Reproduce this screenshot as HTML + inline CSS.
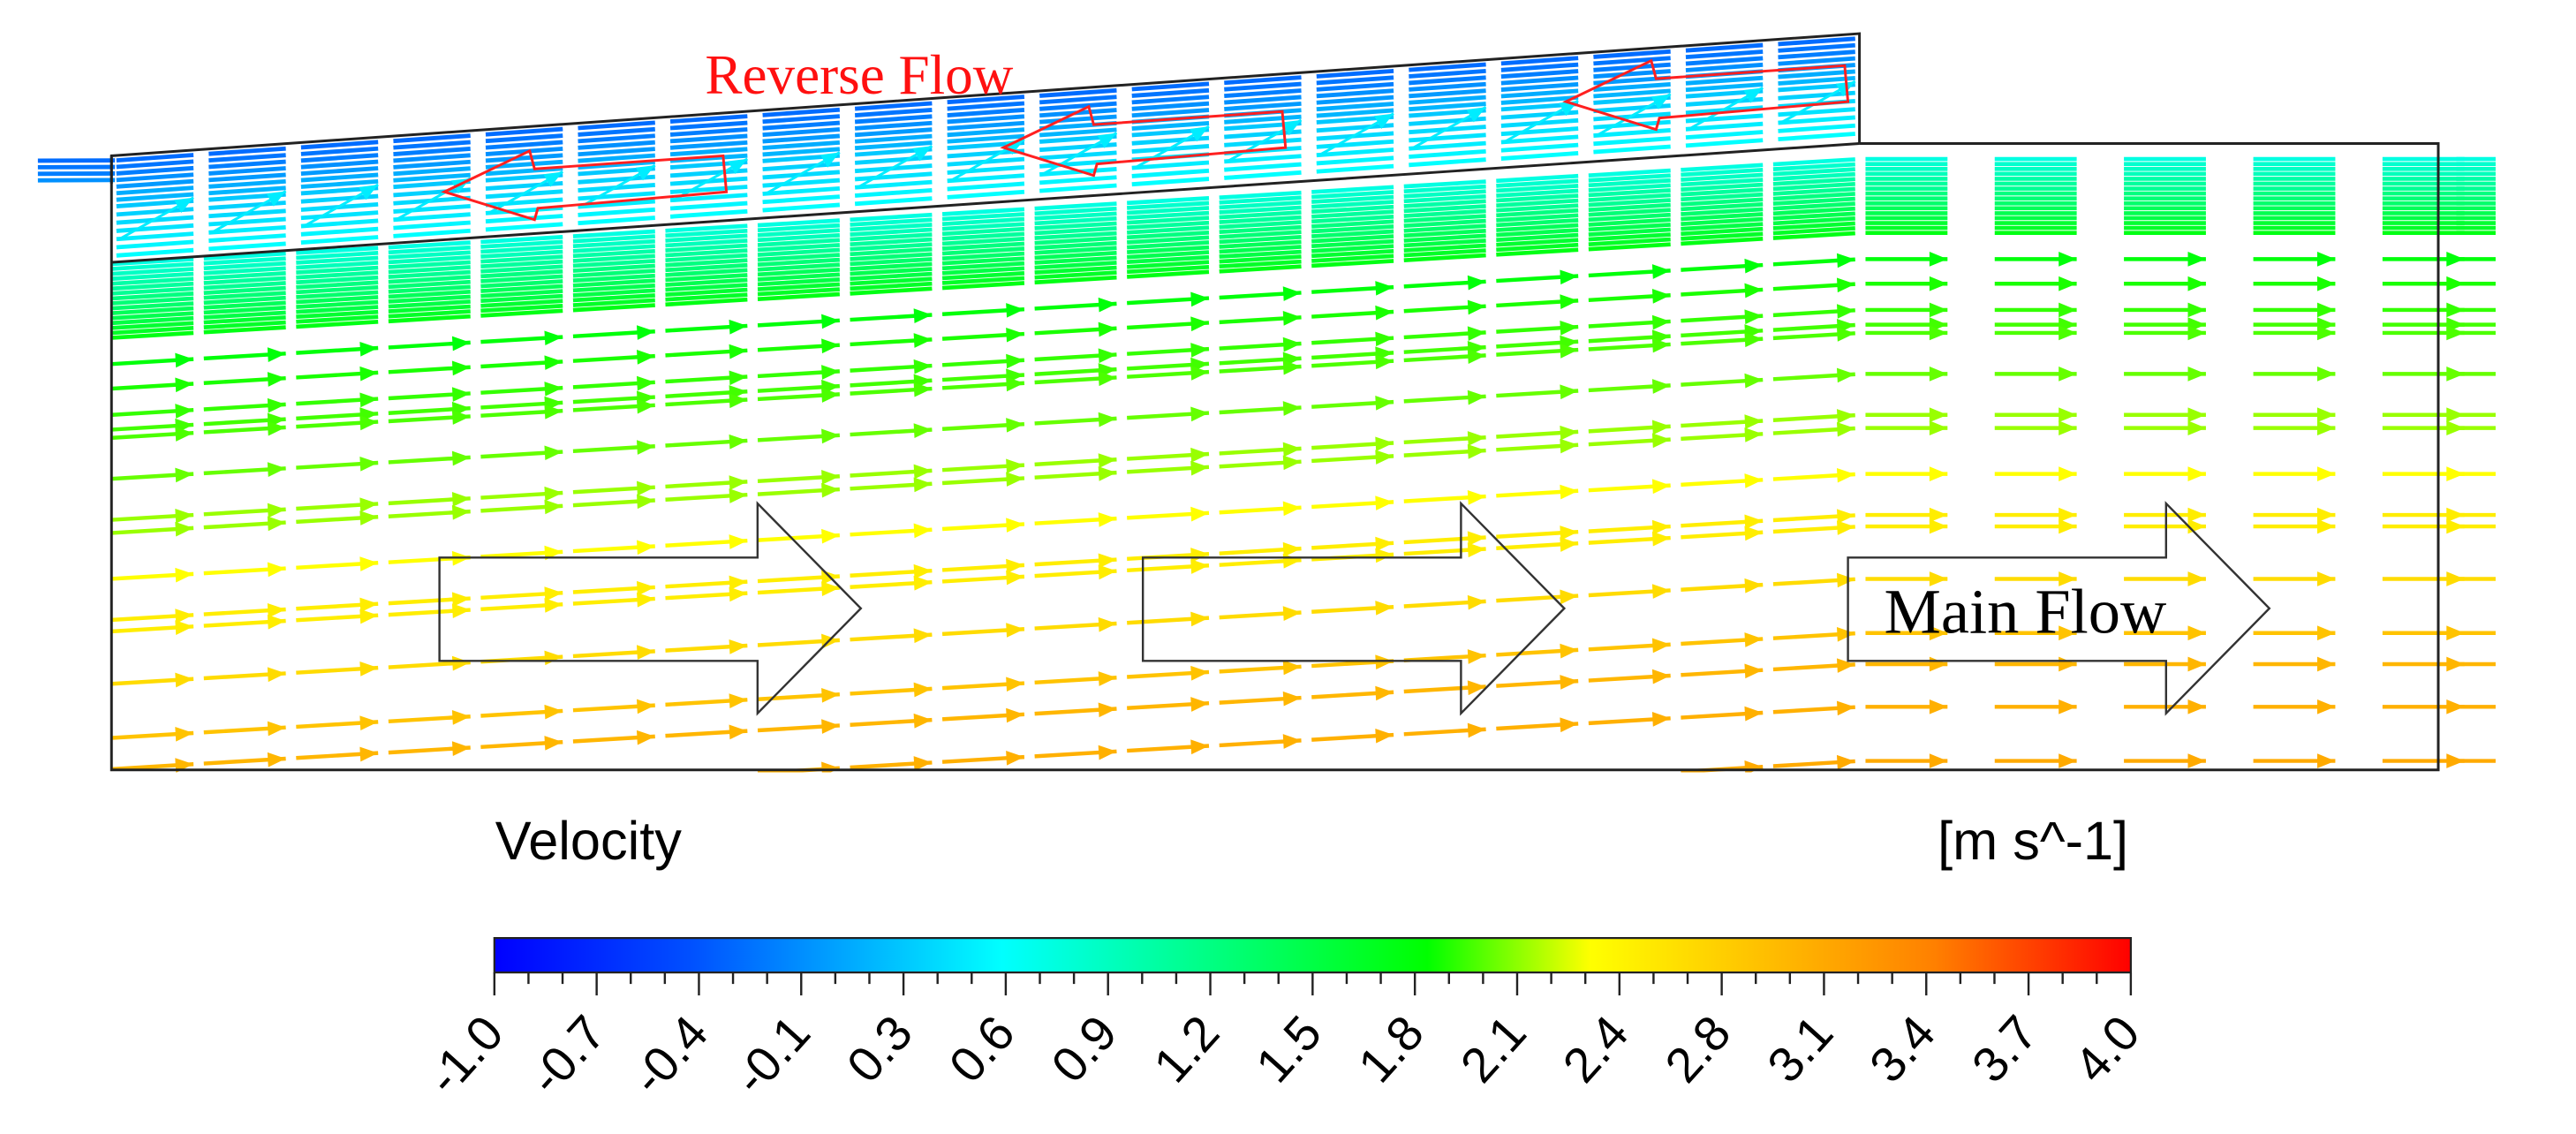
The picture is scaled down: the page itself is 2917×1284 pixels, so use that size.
<!DOCTYPE html>
<html><head><meta charset="utf-8"><title>Velocity vectors</title>
<style>
html,body{margin:0;padding:0;background:#fff;}
svg{display:block;}
</style></head>
<body>
<svg id="chart" xmlns="http://www.w3.org/2000/svg" width="2917" height="1284" viewBox="0 0 1571 691.5" preserveAspectRatio="none">
  <defs>
    <clipPath id="flowClip">
      <polygon points="15,95 68,95 1134,20.5 1134,87.5 1522,87.5 1522,471 68,471 68,112 15,112"/>
    </clipPath>
    <linearGradient id="cbGrad" x1="0" x2="1" y1="0" y2="0">
      <stop offset="0" stop-color="#0000ff"/>
      <stop offset="0.12" stop-color="#0050ff"/>
      <stop offset="0.31" stop-color="#00ffff"/>
      <stop offset="0.44" stop-color="#00ff80"/>
      <stop offset="0.57" stop-color="#00ff00"/>
      <stop offset="0.67" stop-color="#ffff00"/>
      <stop offset="0.88" stop-color="#ff8000"/>
      <stop offset="1" stop-color="#ff0000"/>
    </linearGradient>
  </defs>
  <g id="vectors" clip-path="url(#flowClip)"></g>

  <g fill="none" stroke="#222" stroke-width="1.6">
    <polyline points="68,112 68,95 1134,20.5 1134,87.5"/>
    <line x1="68" y1="160" x2="1134" y2="87.5"/>
    <polyline points="1134,87.5 1487,87.5 1487,469.5 68,469.5 68,95"/>
  </g>

  <g fill="none" stroke="#ff2020" stroke-width="1.6">
    <polygon points="271,117 323,92 326,103 441,95 443,117 328,127 326,134"/>
    <polygon transform="translate(341,-27)" points="271,117 323,92 326,103 441,95 443,117 328,127 326,134"/>
    <polygon transform="translate(684,-55)" points="271,117 323,92 326,103 441,95 443,117 328,127 326,134"/>
  </g>
  <text x="430" y="57" font-family="Liberation Serif, serif" font-size="34" fill="#ff1010">Reverse Flow</text>

  <g fill="none" stroke="#333" stroke-width="1.3">
    <polygon points="268,340 462,340 462,307 525,371 462,435 462,403 268,403"/>
    <polygon transform="translate(429,0)" points="268,340 462,340 462,307 525,371 462,435 462,403 268,403"/>
    <polygon transform="translate(859,0)" points="268,340 462,340 462,307 525,371 462,435 462,403 268,403"/>
  </g>
  <text x="1149" y="386" font-family="Liberation Serif, serif" font-size="39" fill="#000">Main Flow</text>

  <text x="302" y="524" font-family="Liberation Sans, sans-serif" font-size="33" fill="#000">Velocity</text>
  <text x="1298" y="524" text-anchor="end" font-family="Liberation Sans, sans-serif" font-size="33" fill="#000">[m s^-1]</text>
  <rect x="301.5" y="572" width="998" height="21" fill="url(#cbGrad)" stroke="#222" stroke-width="1.2"/>
  <g id="cbTicks"></g>
</svg>
<script>
// ---- colorbar data ----
const cbMin = -1.0, cbMax = 4.0;
const cbLabels = ["-1.0","-0.7","-0.4","-0.1","0.3","0.6","0.9","1.2","1.5","1.8","2.1","2.4","2.8","3.1","3.4","3.7","4.0"];

// ---- vector field data ----
const colStation = [-0.85,0,1,2,3,4,5,6,7,8,9,10,11,12,13,14,15,16,17,18,19,20.4,21.8,23.2,24.6,25.4];
const upperDepth = [3,7,11,15,19,23,27,31,36,41,46,51,56,61];
const upperSpeed = [-0.25,-0.2,-0.15,-0.05,0.0,0.1,0.15,0.25,0.3,0.35,0.4,0.45,0.5,0.55];
const bandDepth = [66,69,72,75,78,81,84,87,90,93,96,99,102,105,108,111];
const bandSpeed = [0.7,0.8,0.85,0.9,1.0,1.05,1.1,1.2,1.25,1.3,1.4,1.45,1.5,1.6,1.65,1.75];
const rowDepth = [127,142,158,167,172,197,222,230,258,283,290,322,355,374,400,433];
const rowSpeed = [1.8,1.9,1.95,1.98,2.0,2.05,2.15,2.15,2.35,2.5,2.5,2.65,2.85,2.95,3.0,3.05];

// ---- axis functions ----
const xScale = s => 68 + s * 56.3;
const yScale = d => 95 + d;
const cbScale = v => 301.5 + (v - cbMin) / (cbMax - cbMin) * 998;
const BREAK_X = 1134;

const stops = [[-1,[0,0,255]],[-0.4,[0,80,255]],[0.55,[0,255,255]],[1.2,[0,255,128]],[1.85,[0,255,0]],[2.35,[255,255,0]],[3.4,[255,128,0]],[4,[255,0,0]]];
function colorOf(v){
  if (v <= stops[0][0]) return 'rgb(0,0,255)';
  for (let i=1;i<stops.length;i++){
    if (v <= stops[i][0]){
      const [a,ca]=stops[i-1],[b,cb]=stops[i];
      const t=(v-a)/(b-a);
      const c=ca.map((x,k)=>Math.round(x+(cb[k]-x)*t));
      return 'rgb('+c.join(',')+')';
    }
  }
  return 'rgb(255,0,0)';
}

const NS='http://www.w3.org/2000/svg';
const g=document.getElementById('vectors');

function yAt(depth, x, slope){
  const xx=Math.min(Math.max(x,68),BREAK_X);
  return yScale(depth) - slope*(xx-68);
}

function seg(x1,y1,x2,y2,col,w,head,name){
  const l=document.createElementNS(NS,'line');
  
  
  l.setAttribute('x1',x1.toFixed(1));l.setAttribute('y1',y1.toFixed(1));
  l.setAttribute('x2',x2.toFixed(1));l.setAttribute('y2',y2.toFixed(1));
  l.setAttribute('stroke',col);l.setAttribute('stroke-width',w);
  g.appendChild(l);
  if(head){
    const dx=x2-x1,dy=y2-y1,L=Math.hypot(dx,dy),ux=dx/L,uy=dy/L;
    const hx=x2-ux*11,hy=y2-uy*11;
    const p=document.createElementNS(NS,'polygon');
    
    
    p.setAttribute('points',[x2,y2,hx-uy*4.5,hy+ux*4.5,hx+uy*4.5,hy-ux*4.5].map(v=>v.toFixed(1)).join(' '));
    p.setAttribute('fill',col);
    g.appendChild(p);
  }
}

// upper reverse-flow layer
colStation.forEach(s=>{
  const x=xScale(s);
  if (x>=BREAK_X-5) return;
  upperDepth.forEach((d,i)=>{
    if (s<0 && d>17) return;
    const sl=0.07;
    const xa=x+3, xb=x+50;
    seg(xb, yAt(d,xb,sl), xa, yAt(d,xa,sl), colorOf(upperSpeed[i]), 2.6, false, 'reverse-vector');
  });
  if (s>=0){
    const d0=upperDepth[upperDepth.length-3];
    seg(x+5, yAt(d0,x+5,0.07), x+50, yAt(d0,x+50,0.07)-22, colorOf(0.45), 1.6, true, 'reverse-diagonal-vector');
  }
});

function drawRows(depths, speeds, w, head, name, slope){
  colStation.forEach(s=>{
    if (s<0) return;
    const x=xScale(s);
    depths.forEach((d,i)=>{
      const L=50;
      const y1=yAt(d,x,slope), y2=yAt(d,x+L,slope);
      if (y1>472) return;
      seg(x, y1, x+L, y2, colorOf(speeds[i]), w, head, name);
    });
  });
}
drawRows(bandDepth, bandSpeed, 2.5, false, 'shear-band-vector', 0.06);
drawRows(rowDepth, rowSpeed, 2.4, true, 'main-flow-vector', 0.06);

// colorbar ticks and labels
const tg=document.getElementById('cbTicks');
const nMaj=cbLabels.length-1;
for(let i=0;i<=nMaj*3;i++){
  const v=cbMin+(cbMax-cbMin)*i/(nMaj*3);
  const x=cbScale(v);
  const t=document.createElementNS(NS,'line');
  
  
  t.setAttribute('x1',x);t.setAttribute('x2',x);
  t.setAttribute('y1',593);t.setAttribute('y2',i%3===0?607:600);
  t.setAttribute('stroke','#222');t.setAttribute('stroke-width',1.3);
  tg.appendChild(t);
}
cbLabels.forEach((lab,i)=>{
  const v=cbMin+(cbMax-cbMin)*i/nMaj;
  const x=cbScale(v)+7, y=631;
  const t=document.createElementNS(NS,'text');
  
  
  t.setAttribute('x',x);t.setAttribute('y',y);
  t.setAttribute('text-anchor','end');
  t.setAttribute('font-family','Liberation Sans, sans-serif');
  t.setAttribute('font-size','30');
  t.setAttribute('transform','rotate(-48 '+x+' '+y+')');
  t.textContent=lab;
  tg.appendChild(t);
});
</script>
</body></html>
